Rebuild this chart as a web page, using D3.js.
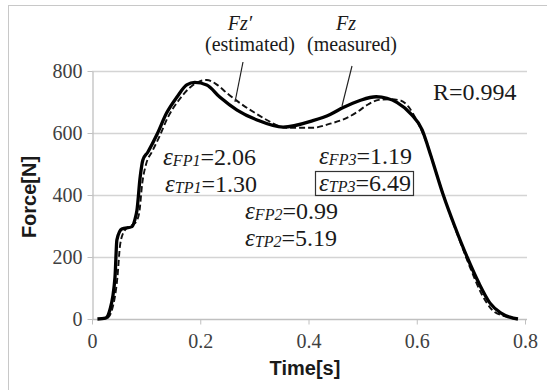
<!doctype html>
<html>
<head>
<meta charset="UTF-8">
<title>Force</title>
<script src="https://cdn.jsdelivr.net/npm/d3@7"></script>
<style>
	body { margin:0; background:white; }
	svg { display:block; }
	.tick text { font-family:'Liberation Serif', serif; font-size:20px; fill:#404040; }
	.axtitle { font-family:'Liberation Sans', Arial, sans-serif; font-weight:bold; font-size:20px; fill:#1a1a1a; }
	.note { font-family:'Liberation Serif', serif; fill:#1a1a1a; }
</style>
</head>
<body>
<script>

// measured Fz (solid)
var tMeas = [0.010,0.025,0.033,0.0425,0.046,0.055,0.074,0.079,0.083,0.089,0.094,0.103,0.120,0.138,0.157,0.175,0.190,0.212,0.236,0.268,0.305,0.353,0.408,0.440,0.464,0.495,0.525,0.545,0.564,0.590,0.610,0.620,0.630,0.649,0.670,0.693,0.715,0.735,0.755,0.772,0.787];
var fMeas = [0,3,29,135,255,290,298,319,350,458,513,538,595,665,716,755,763,755,716,674,642,619,640,660,682,705,717,712,698,660,610,560,505,400,300,200,115,52,20,6,0];

// estimated Fz' (dashed)
var tEst = [0.012,0.028,0.037,0.047,0.052,0.060,0.070,0.080,0.087,0.093,0.100,0.111,0.125,0.140,0.160,0.180,0.198,0.212,0.230,0.249,0.273,0.300,0.323,0.360,0.408,0.440,0.470,0.490,0.510,0.530,0.550,0.570,0.585,0.600,0.620,0.640,0.660,0.680,0.700,0.720,0.740,0.760,0.790];
var fEst = [0,3,30,135,240,285,300,310,340,440,500,540,590,650,705,745,766,771,757,729,697,666,642,617,617,630,648,668,692,707,709,705,684,640,560,450,345,250,160,80,28,10,0];

var xTicks = [0,0.2,0.4,0.6,0.8];
var yTicks = [0,200,400,600,800];

var epsNames = ["FP1","TP1","FP2","TP2","FP3","TP3"];
var epsValues = ["2.06","1.30","0.99","5.19","1.19","6.49"];
var rText = "R=0.994";

var width = 547, height = 390;

var svg = d3.select("body").append("svg")
	.attr("width", width)
	.attr("height", height);

// outer frame
svg.append("line").attr("x1",8.5).attr("x2",8.5).attr("y1",5).attr("y2",height).attr("stroke","#c8c8c8");
svg.append("line").attr("x1",8).attr("x2",width).attr("y1",5.5).attr("y2",5.5).attr("stroke","#c8c8c8");

var x = d3.scaleLinear().domain([0,0.8]).range([92,525]);
var y = d3.scaleLinear().domain([0,800]).range([319,71]);

// grid
svg.append("g").selectAll("line")
	.data(yTicks.slice(1))
	.enter().append("line")
		.attr("x1", x(0)).attr("x2", x(0.8)+2)
		.attr("y1", function(d){ return Math.round(y(d))+0.5; })
		.attr("y2", function(d){ return Math.round(y(d))+0.5; })
		.attr("stroke", "#d4d4d4")
		.attr("stroke-width", 1.3);

var xAxis = svg.append("g")
	.attr("transform", "translate(0," + (Math.round(y(0))+0.5) + ")")
	.call(d3.axisBottom(x).tickValues(xTicks).tickSize(5).tickSizeOuter(0).tickPadding(9)
		.tickFormat(function(d){ return d === 0 ? "0" : d.toFixed(1); }));

var yAxis = svg.append("g")
	.attr("transform", "translate(" + (Math.round(x(0))+0.5) + ",0)")
	.call(d3.axisLeft(y).tickValues(yTicks).tickSize(5).tickSizeOuter(0).tickPadding(5));

[xAxis, yAxis].forEach(function(a){
	a.select(".domain").attr("stroke", "#c0c0c0").attr("stroke-width", 1.3);
	a.selectAll(".tick line").attr("stroke", "#c0c0c0");
	a.selectAll(".tick text").attr("font-family", null).attr("font-size", null);
});
xAxis.select(".domain").attr("d", "M" + x(0) + ",0H" + (x(0.8)+2));

// axis titles
svg.append("text").attr("class","axtitle")
	.attr("x", 305).attr("y", 375)
	.attr("text-anchor","middle")
	.text("Time[s]");

svg.append("text").attr("class","axtitle")
	.attr("transform", "translate(36,197) rotate(-90)")
	.attr("text-anchor","middle")
	.text("Force[N]");

// curves
var line = d3.line()
	.x(function(d){ return x(d[0]); })
	.y(function(d){ return y(d[1]); })
	.curve(d3.curveMonotoneX);

var meas = tMeas.map(function(t,i){ return [t, fMeas[i]]; });
var est = tEst.map(function(t,i){ return [t, fEst[i]]; });

svg.append("path").datum(est)
	.attr("d", line)
	.attr("fill","none")
	.attr("stroke","#111")
	.attr("stroke-width",1.9)
	.attr("stroke-dasharray","6,3");

svg.append("path").datum(meas)
	.attr("d", line)
	.attr("fill","none")
	.attr("stroke","#000")
	.attr("stroke-width",3.3)
	.attr("stroke-linejoin","round");

// series labels + leaders
var lbl = svg.append("g").attr("class","note").attr("text-anchor","middle").attr("font-size",20);
lbl.append("text").attr("x",240).attr("y",30).attr("font-style","italic").text("Fz\u2032");
lbl.append("text").attr("x",250).attr("y",51).text("(estimated)");
lbl.append("text").attr("x",346).attr("y",30).attr("font-style","italic").text("Fz");
lbl.append("text").attr("x",352).attr("y",51).text("(measured)");

svg.append("line").attr("x1",243).attr("y1",62).attr("x2",235).attr("y2",102)
	.attr("stroke","#222").attr("stroke-width",1.2);
svg.append("line").attr("x1",352).attr("y1",66).attr("x2",342).attr("y2",106)
	.attr("stroke","#222").attr("stroke-width",1.2);

svg.append("text").attr("class","note")
	.attr("x",433).attr("y",100).attr("font-size",24)
	.text(rText);

// error labels
var epsPos = [[163,165],[165,192],[245,219],[245,246],[319,164],[319,191]];

epsNames.forEach(function(n,i){
	var t = svg.append("text").attr("class","note")
		.attr("x", epsPos[i][0]).attr("y", epsPos[i][1])
		.attr("font-size", 24);
	t.append("tspan").attr("font-style","italic").attr("font-size",25).text("\u03b5");
	t.append("tspan").attr("font-style","italic").attr("font-size",16).attr("dy",1).text(n);
	t.append("tspan").attr("dy",-1).text("=" + epsValues[i]);
	if (i == 5) {
		var b = t.node().getBBox();
		svg.append("rect")
			.attr("x", Math.round(b.x)-3.5).attr("y", Math.round(b.y)+2.5)
			.attr("width", Math.round(b.width)+6).attr("height", Math.round(b.height)-3)
			.attr("fill","none").attr("stroke","#333").attr("stroke-width",1.2);
	}
});

</script>
</body>
</html>
